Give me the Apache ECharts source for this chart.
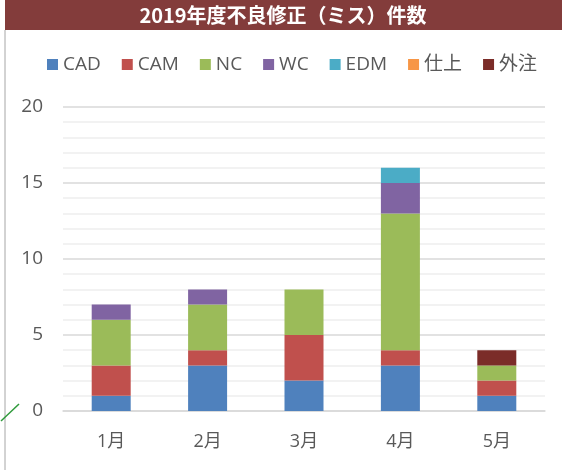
<!DOCTYPE html>
<html>
<head>
<meta charset="utf-8">
<script src="https://cdn.jsdelivr.net/npm/echarts@6/dist/echarts.min.js"></script>
<style>
  html, body { margin: 0; padding: 0; background: #fff; }
  #chart { width: 562px; height: 470px; }
</style>
</head>
<body>
<div id="chart"></div>
<script>
const months = ['1月', '2月', '3月', '4月', '5月'];
const seriesNames = ['CAD', 'CAM', 'NC', 'WC', 'EDM', '仕上', '外注'];
const cad = [1, 3, 2, 3, 1];
const cam = [2, 1, 3, 1, 1];
const nc = [3, 3, 3, 9, 1];
const wc = [1, 1, 0, 2, 0];
const edm = [0, 0, 0, 1, 0];
const shiage = [0, 0, 0, 0, 0];
const gaichu = [0, 0, 0, 0, 1];
const yTicks = [0, 5, 10, 15, 20];

const colors = ['#4F81BD', '#C0504D', '#9BBB59', '#8064A2', '#4BACC6', '#F79646', '#7B2C28'];
const values = [cad, cam, nc, wc, edm, shiage, gaichu];

const myChart = echarts.init(document.getElementById('chart'));
const font = "'Open Sans', 'Noto Sans CJK JP', sans-serif";

myChart.setOption({
    animation: false,
    textStyle: { fontFamily: font },
    graphic: [
        { type: 'rect', shape: { x: 5, y: 0, width: 557, height: 30 }, style: { fill: '#833C3B' } },
        { type: 'text', x: 283, y: 15, style: { text: '2019年度不良修正（ミス）件数', fill: '#fff', font: "bold 20px 'Noto Sans CJK JP', sans-serif", align: 'center', verticalAlign: 'middle' } },
        { type: 'line', shape: { x1: 5, y1: 30, x2: 5, y2: 470 }, style: { stroke: '#a6a6a6', lineWidth: 1 } },
        // stray green stroke in the corner of the source image
        { type: 'line', shape: { x1: 1, y1: 421, x2: 19, y2: 404 }, style: { stroke: '#2e9a3a', lineWidth: 1.5 } }
    ],
    legend: {
        top: 50,
        left: 42,
        itemWidth: 11,
        itemHeight: 11,
        itemGap: 21,
        icon: 'rect',
        textStyle: { fontSize: 19, color: '#595959', fontFamily: font },
        data: seriesNames
    },
    grid: { left: 63, right: 17, top: 107, bottom: 59 },
    xAxis: {
        type: 'category',
        data: months,
        axisTick: { show: false },
        axisLine: { lineStyle: { color: '#d9d9d9', width: 1.5 } },
        axisLabel: { fontSize: 18, color: '#595959', margin: 22 }
    },
    yAxis: {
        type: 'value',
        min: yTicks[0],
        max: yTicks[yTicks.length - 1],
        interval: 5,
        axisLabel: { fontSize: 19, color: '#595959', margin: 20 },
        splitLine: { lineStyle: { color: '#d9d9d9', width: 1.5 } },
        minorTick: { show: false, splitNumber: 5 },
        minorSplitLine: { show: true, lineStyle: { color: '#eeeeee', width: 1.5 } }
    },
    series: seriesNames.map((name, i) => ({
        name: name,
        type: 'bar',
        stack: 'total',
        barWidth: 39,
        itemStyle: { color: colors[i] },
        data: values[i]
    }))
});
</script>
</body>
</html>
